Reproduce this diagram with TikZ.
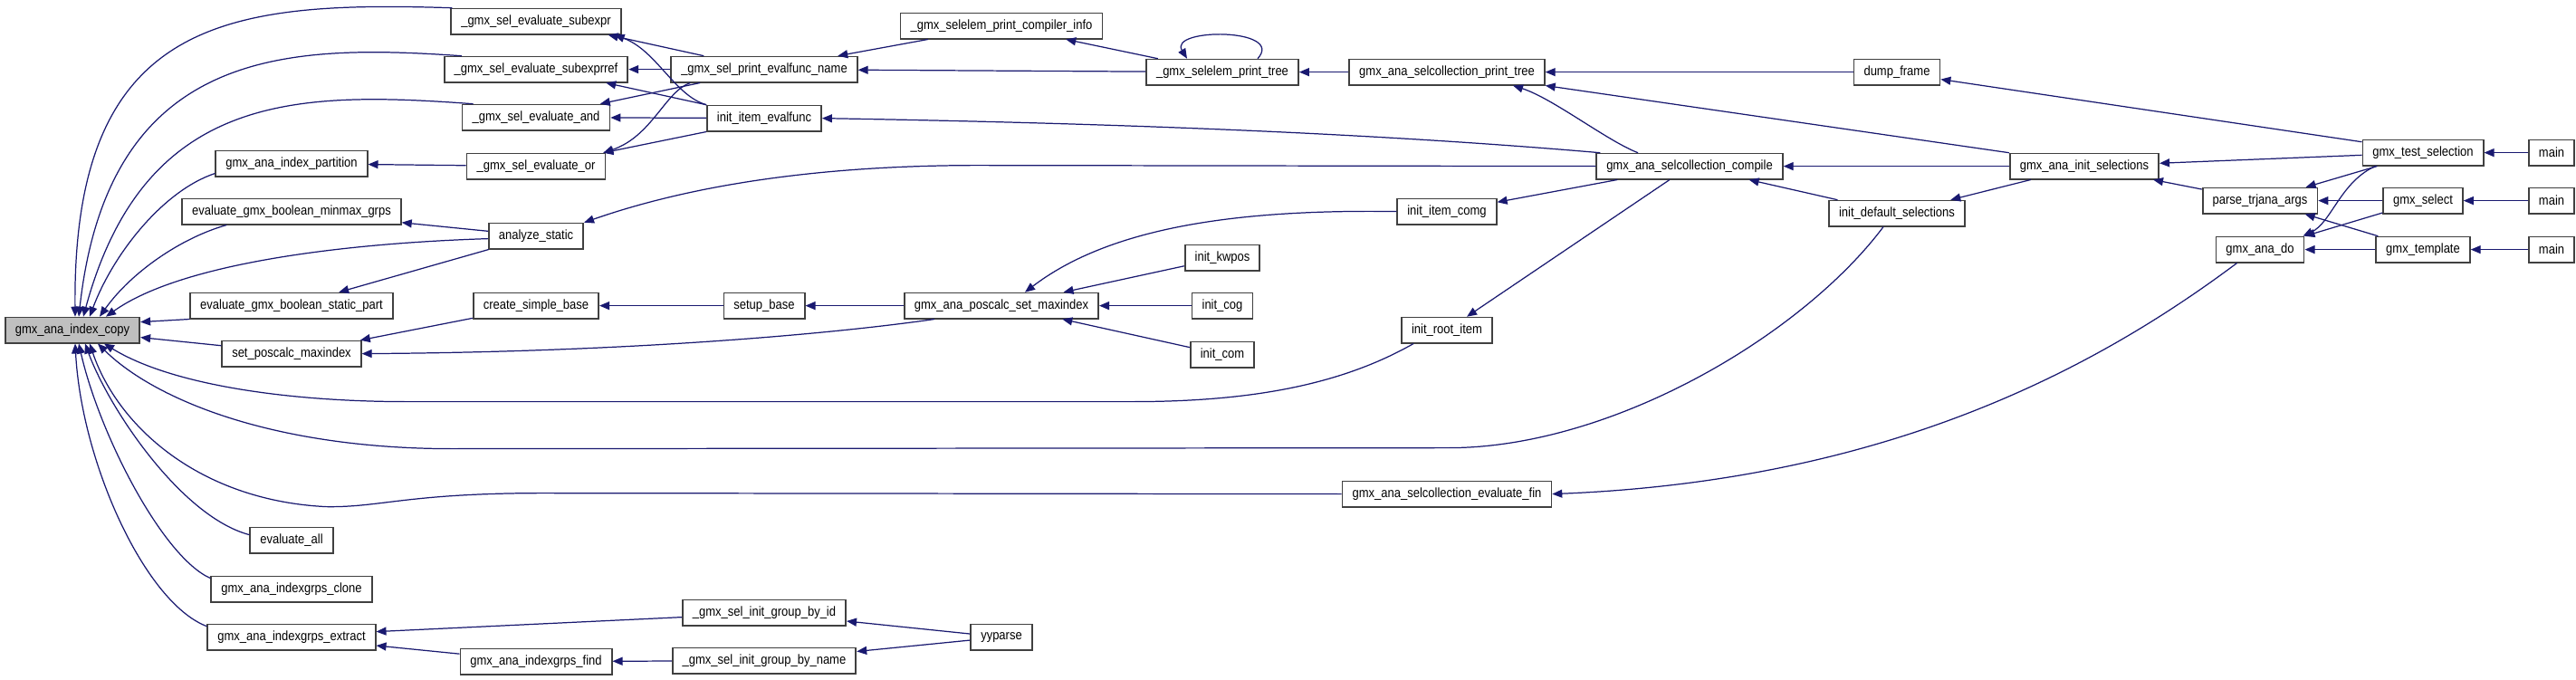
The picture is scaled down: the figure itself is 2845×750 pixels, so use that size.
\documentclass[tikz,border=0pt]{standalone}
\usepackage{fontspec}
\newfontfamily\graphfont{Liberation Sans}[FakeStretch=0.88]
\definecolor{callblue}{RGB}{25,25,112}
\definecolor{rootgray}{RGB}{191,191,191}
\usetikzlibrary{arrows.meta,calc}

\begin{document}
\begin{tikzpicture}[x=0.01cm,y=-0.01cm,
  fn/.style={draw=black!75,line width=0.5pt,fill=white,minimum height=0.28cm,inner xsep=0.11cm,inner ysep=0pt,font=\graphfont\fontsize{4.2}{5}\selectfont},
  call/.style={callblue,line width=0.35pt,-{Triangle[length=0.11cm,width=0.09cm]}}]
  \path[fill=white] (0,0) rectangle (2845,750);
  % root function
  \node[fn,fill=rootgray] (copy) at (80,364) {gmx\_ana\_index\_copy};
  % first column of callers
  \node[fn] (partition) at (322,180) {gmx\_ana\_index\_partition};
  \node[fn] (minmax) at (322,233) {evaluate\_gmx\_boolean\_minmax\_grps};
  \node[fn] (staticpart) at (322,337) {evaluate\_gmx\_boolean\_static\_part};
  \node[fn] (setposmax) at (322,390) {set\_poscalc\_maxindex};
  \node[fn] (evalall) at (322,596) {evaluate\_all};
  \node[fn] (clone) at (322,650) {gmx\_ana\_indexgrps\_clone};
  \node[fn] (extract) at (322,703) {gmx\_ana\_indexgrps\_extract};
  % evaluators
  \node[fn] (subexpr) at (592,23) {\_gmx\_sel\_evaluate\_subexpr};
  \node[fn] (subexprref) at (592,76) {\_gmx\_sel\_evaluate\_subexprref};
  \node[fn] (evand) at (592,129) {\_gmx\_sel\_evaluate\_and};
  \node[fn] (evor) at (592,183) {\_gmx\_sel\_evaluate\_or};
  \node[fn] (analyze) at (592,260) {analyze\_static};
  \node[fn] (createbase) at (592,337) {create\_simple\_base};
  \node[fn] (find) at (592,730) {gmx\_ana\_indexgrps\_find};
  \node[fn] (printname) at (844,76) {\_gmx\_sel\_print\_evalfunc\_name};
  \node[fn] (itemeval) at (844,130) {init\_item\_evalfunc};
  \node[fn] (setupbase) at (844,337) {setup\_base};
  \node[fn] (byid) at (844,676) {\_gmx\_sel\_init\_group\_by\_id};
  \node[fn] (byname) at (844,729) {\_gmx\_sel\_init\_group\_by\_name};
  \node[fn] (compinfo) at (1106,28) {\_gmx\_selelem\_print\_compiler\_info};
  \node[fn] (pcmax) at (1106,337) {gmx\_ana\_poscalc\_set\_maxindex};
  \node[fn] (yyparse) at (1106,703) {yyparse};
  \node[fn] (printtree) at (1350,79) {\_gmx\_selelem\_print\_tree};
  \node[fn] (kwpos) at (1350,284) {init\_kwpos};
  \node[fn] (cog) at (1350,337) {init\_cog};
  \node[fn] (com) at (1350,391) {init\_com};
  % selection collection
  \node[fn] (sctree) at (1598,79) {gmx\_ana\_selcollection\_print\_tree};
  \node[fn] (itemcomg) at (1598,233) {init\_item\_comg};
  \node[fn] (rootitem) at (1598,364) {init\_root\_item};
  \node[fn] (evalfin) at (1598,545) {gmx\_ana\_selcollection\_evaluate\_fin};
  \node[fn] (compile) at (1866,183) {gmx\_ana\_selcollection\_compile};
  \node[fn] (dumpframe) at (2095,79) {dump\_frame};
  \node[fn] (defsel) at (2095,235) {init\_default\_selections};
  \node[fn] (initsel) at (2302,183) {gmx\_ana\_init\_selections};
  \node[fn] (parseargs) at (2496,221) {parse\_trjana\_args};
  \node[fn] (anado) at (2496,275) {gmx\_ana\_do};
  % tools and mains
  \node[fn] (testsel) at (2676,168) {gmx\_test\_selection};
  \node[fn] (gmxselect) at (2676,221) {gmx\_select};
  \node[fn] (template) at (2676,275) {gmx\_template};
  \node[fn] (mainA) at (2818,168) {main};
  \node[fn] (mainB) at (2818,221) {main};
  \node[fn] (mainC) at (2818,275) {main};
  % calls into the root
  \draw[call] ($(subexpr.north west)+(2,0)$) .. controls (250,0) and (80,20) .. ($(copy.north)+(3,0)$);
  \draw[call] ($(subexprref.north west)+(20,0)$) .. controls (320,48) and (120,50) .. ($(copy.north)+(7,0)$);
  \draw[call] ($(evand.north west)+(13,0)$) .. controls (330,100) and (160,100) .. ($(copy.north)+(12,0)$);
  \draw[call] ($(partition.south west)+(0,-4)$) .. controls (180,210) and (125,280) .. ($(copy.north)+(19,0)$);
  \draw[call] ($(minmax.south west)+(50,0)$) .. controls (200,262) and (145,300) .. ($(copy.north)+(30,0)$);
  \draw[call] ($(analyze.west)+(0,3)$) .. controls (380,268) and (200,290) .. ($(copy.north)+(37,0)$);
  \draw[call] (staticpart.south west) -- ($(copy.east)+(0,-9)$);
  \draw[call] ($(setposmax.north west)+(0,6)$) -- ($(copy.east)+(0,8)$);
  \draw[call] ($(rootitem.south west)+(14,0)$) .. controls (1480,425) and (1380,443) .. (1250,443) -- (450,443) .. controls (320,443) and (190,425) .. ($(copy.south)+(35,0)$);
  \draw[call] ($(defsel.south)+(-15,0)$) .. controls (1990,370) and (1780,494) .. (1600,494) -- (500,495) .. controls (300,495) and (170,440) .. ($(copy.south)+(28,0)$);
  \draw[call] (evalfin.west) -- (600,544) .. controls (450,544) and (420,560) .. (360,559) .. controls (220,552) and (130,470) .. ($(copy.south)+(19,0)$);
  \draw[call] ($(evalall.west)+(0,-6)$) .. controls (200,570) and (120,450) .. ($(copy.south)+(14,0)$);
  \draw[call] ($(clone.west)+(0,-12)$) .. controls (180,615) and (110,480) .. ($(copy.south)+(7,0)$);
  \draw[call] ($(extract.north west)+(0,3)$) .. controls (160,665) and (90,510) .. ($(copy.south)+(3,0)$);
  % evaluators
  \draw[call] (analyze) -- (minmax);
  \draw[call] (analyze) -- (staticpart);
  \draw[call] (evor) -- (partition);
  \draw[call] ($(printname.north west)+(37,0)$) -- ($(subexpr.south east)+(-15,0)$);
  \draw[call] (printname) -- (subexprref);
  \draw[call] (printname) -- (evand);
  \draw[call] ($(printname.south west)+(22,0)$) .. controls (735,100) and (720,150) .. ($(evor.north east)+(-3,0)$);
  \draw[call] (itemeval.north west) .. controls (745,105) and (725,55) .. ($(subexpr.south east)+(-8,0)$);
  \draw[call] (itemeval.north west) -- ($(subexprref.south east)+(-25,0)$);
  \draw[call] (itemeval) -- (evand);
  \draw[call] (itemeval.south west) -- ($(evor.north east)+(-3,0)$);
  \draw[call] (compinfo) -- (printname);
  \draw[call] (printtree) -- (printname);
  \draw[call] (printtree) -- (compinfo);
  \draw[call] ($(printtree.north)+(39,0)$) .. controls (1420,30) and (1290,30) .. ($(printtree.north)+(-39,0)$);
  % position calculation
  \draw[call] (createbase) -- (setposmax);
  \draw[call] (setupbase) -- (createbase);
  \draw[call] (pcmax) -- (setupbase);
  \draw[call] ($(pcmax.south west)+(34,0)$) .. controls (920,368) and (700,388) .. (setposmax.east);
  \draw[call] (kwpos) -- (pcmax);
  \draw[call] (cog) -- (pcmax);
  \draw[call] (com) -- (pcmax);
  \draw[call] (itemcomg.west) .. controls (1350,230) and (1220,255) .. ($(pcmax.north)+(26,0)$);
  % index groups
  \draw[call] (find) -- (extract);
  \draw[call] ($(byid.west)+(0,5)$) -- ($(extract.east)+(0,-6)$);
  \draw[call] (byname) -- (find);
  \draw[call] (yyparse) -- (byid);
  \draw[call] (yyparse) -- (byname);
  % selection collection
  \draw[call] (compile) -- (itemcomg);
  \draw[call] (compile) -- (rootitem);
  \draw[call] (compile.west) -- (1080,182) .. controls (900,182) and (760,205) .. (analyze.north east);
  \draw[call] ($(compile.north west)+(5,0)$) .. controls (1500,145) and (1200,135) .. (itemeval.east);
  \draw[call] ($(compile.north)+(-57,0)$) .. controls (1775,155) and (1715,108) .. ($(sctree.south)+(73,0)$);
  \draw[call] (sctree) -- (printtree);
  \draw[call] (dumpframe) -- (sctree);
  \draw[call] (initsel.north west) -- (sctree.south east);
  \draw[call] (initsel) -- (compile);
  \draw[call] (initsel) -- (defsel);
  \draw[call] (defsel) -- (compile);
  \draw[call] (parseargs) -- (initsel);
  \draw[call] ($(anado.south west)+(24,0)$) .. controls (2310,410) and (2080,530) .. (evalfin.east);
  % tools
  \draw[call] ($(testsel.north west)+(0,3)$) -- ($(dumpframe.east)+(0,8)$);
  \draw[call] (testsel) -- (initsel);
  \draw[call] (testsel) -- (parseargs);
  \draw[call] ($(testsel.south west)+(15,0)$) .. controls (2585,200) and (2575,245) .. ($(anado.north east)+(-2,0)$);
  \draw[call] (gmxselect) -- (parseargs);
  \draw[call] (gmxselect) -- (anado);
  \draw[call] (template) -- (parseargs);
  \draw[call] (template) -- (anado);
  \draw[call] (mainA) -- (testsel);
  \draw[call] (mainB) -- (gmxselect);
  \draw[call] (mainC) -- (template);
\end{tikzpicture}
\end{document}
